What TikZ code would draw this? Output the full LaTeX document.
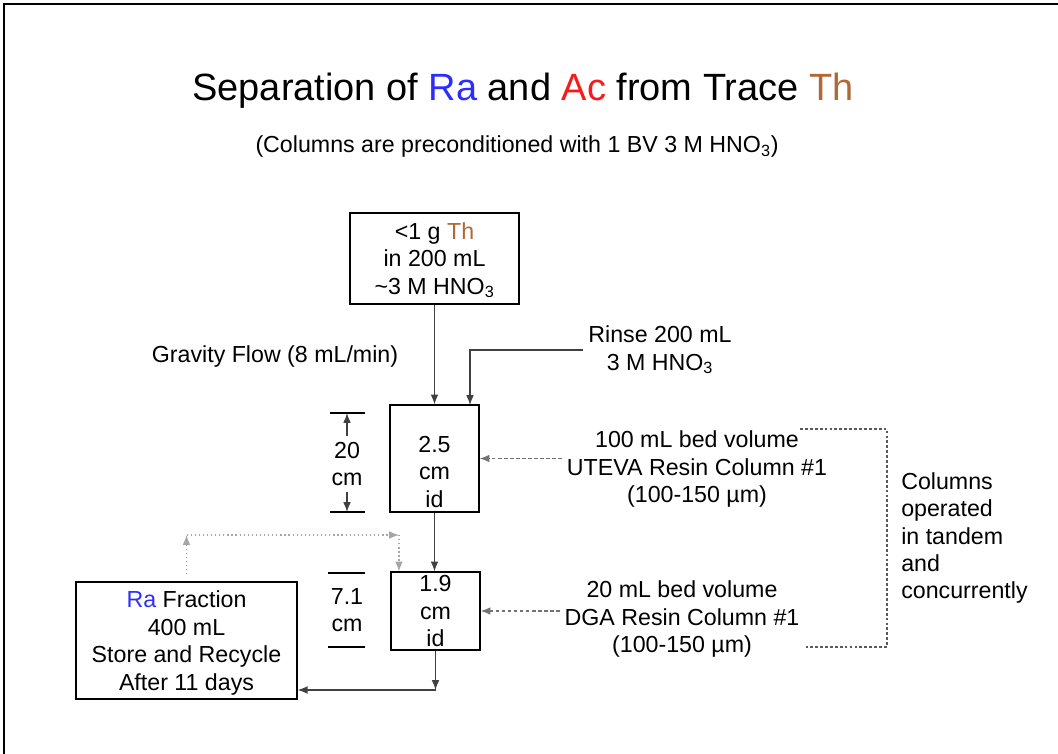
\documentclass[tikz,border=0pt]{standalone}
\usepackage{fontspec}
\setmainfont{Liberation Sans}
\usetikzlibrary{arrows.meta}
\definecolor{raBlue}{RGB}{45,45,255}
\definecolor{acRed}{RGB}{250,25,25}
\definecolor{thBrown}{RGB}{175,105,55}

\begin{document}
\begin{tikzpicture}[x=0.025cm,y=-0.025cm,
	every node/.style={font=\fontsize{16.5}{19.5}\selectfont,align=center},
	txt/.style={inner sep=0pt},
	box/.style={draw,line width=0.9pt,inner sep=0pt,text depth=0pt},
	flow/.style={-{Latex[length=7pt,width=5.5pt]},black!75,line width=0.9pt},
	note/.style={flow,black!55,dash pattern=on 2.5pt off 1.8pt},
	recycle/.style={flow,black!35,dotted},
	bracket/.style={black!65,line width=0.8pt,dash pattern=on 2pt off 1.5pt}]
	\useasboundingbox (0,0) rectangle (1058,754);
	\draw[line width=1.6pt] (4,754) -- (4,4) -- (1058,4);
	% headings
	\node[font=\fontsize{27}{32}\selectfont] (title) at (523,91) {Separation of \textcolor{raBlue}{Ra} and \textcolor{acRed}{Ac} from Trace \textcolor{thBrown}{Th}};
	\node (subtitle) at (517,147) {(Columns are preconditioned with 1 BV 3 M HNO\textsubscript{3})};
	% boxes
	\node[box,minimum width=4.225cm,minimum height=2.275cm] (feed) at (434.5,258.5) {<1 g \textcolor{thBrown}{Th}\\in 200 mL\\\textasciitilde3 M HNO\textsubscript{3}};
	\node[box,minimum width=2.225cm,minimum height=2.675cm] (uteva) at (434.5,458.5) {};
	\node[txt] (utevaid) at (434.5,472) {2.5\\cm\\id};
	\node[box,minimum width=2.225cm,minimum height=1.95cm] (dga) at (435.5,611) {1.9\\cm\\id};
	\node[box,minimum width=5.525cm,minimum height=2.925cm] (rafrac) at (186.5,640.5) {\textcolor{raBlue}{Ra} Fraction\\400 mL\\Store and Recycle\\After 11 days};
	% labels
	\node (gravity) at (275,357) {Gravity Flow (8 mL/min)};
	\node (rinse) at (660,350) {Rinse 200 mL\\3 M HNO\textsubscript{3}};
	\node (utevainfo) at (697,469) {100 mL bed volume\\UTEVA Resin Column \#1\\(100-150 µm)};
	\node (dgainfo) at (682,619) {20 mL bed volume\\DGA Resin Column \#1\\(100-150 µm)};
	\node[txt,anchor=west,align=left] (tandem) at (901,538) {Columns\\operated\\in tandem\\and\\concurrently};
	\node[txt] (dim20) at (347,464) {20\\cm};
	\node[txt] (dim71) at (347,610) {7.1\\cm};
	% dimension marks
	\coordinate (d20t) at (347,413);
	\coordinate (d20b) at (347,512);
	\draw[line width=0.9pt] (330,413) -- (365,413);
	\draw[line width=0.9pt] (330,512) -- (365,512);
	\draw[line width=0.9pt] (328,573) -- (365,573);
	\draw[line width=0.9pt] (328,647) -- (365,647);
	\draw[flow] ([yshift=4pt]dim20.north) -- (d20t);
	\draw[flow] ([yshift=-4pt]dim20.south) -- (d20b);
	% flow
	\coordinate (rinsein) at (470,405);
	\coordinate (dgaout) at (435.5,690);
	\draw[flow] (feed.south) -- (uteva.north);
	\draw[flow] (rinse.west) -| (rinsein);
	\draw[flow] (uteva.south) -- (uteva.south |- dga.north);
	\draw[flow] (dga.south) -- (dgaout);
	\draw[flow] (dgaout) -- (dgaout -| rafrac.east);
	\draw[note] (utevainfo.west |- uteva.east) -- (uteva.east);
	\draw[note] (dgainfo.west |- dga.east) -- (dga.east);
	% recycle
	\coordinate (rc1) at (186.5,535);
	\coordinate (rc2) at (399,535);
	\draw[recycle,shorten <=5pt] (rafrac.north) -- (rc1);
	\draw[recycle] (rc1) -- (rc2);
	\draw[recycle] (rc2) -- (rc2 |- dga.north);
	% tandem bracket
	\coordinate (brtop) at (800,429);
	\coordinate (brbot) at (806,647);
	\draw[bracket] (brtop) -- ++(87,0) |- (brbot);
\end{tikzpicture}
\end{document}
